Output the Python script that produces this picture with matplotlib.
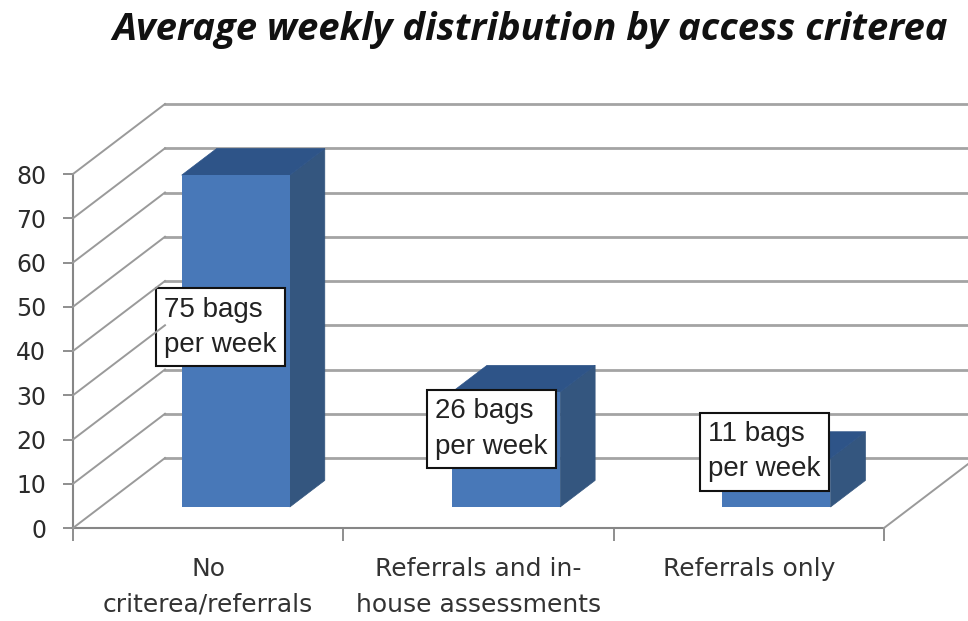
import matplotlib
matplotlib.use("Agg")
import matplotlib.pyplot as plt
from matplotlib.patches import Polygon
from matplotlib.transforms import IdentityTransform, ScaledTranslation

categories = ["No\ncriterea/referrals", "Referrals and in-\nhouse assessments", "Referrals only"]
values = [75, 26, 11]
labels = ["75 bags\nper week", "26 bags\nper week", "11 bags\nper week"]
yticks = [0, 10, 20, 30, 40, 50, 60, 70, 80]
title = "Average weekly distribution by access criterea"

W, H, DPI = 968, 621, 100
fig = plt.figure(figsize=(W / DPI, H / DPI), dpi=DPI, facecolor="white")
ax = fig.add_axes([73 / W, 1 - 528 / H, (884 - 73) / W, (528 - 174) / H])
ax.set_xlim(0, 3)
ax.set_ylim(0, 80)
ax.patch.set_alpha(0)

# oblique depth, in pixels for a depth fraction of 1
DX, DY = 92, 70
GRID = "#a4a4a4"
DIAG = "#9a9a9a"
AXC = "#868686"


def proj(x, y, d=0.0):
    px, py = ax.transData.transform((x, y))
    return (px + d * DX, py + d * DY)


def shift(d, px=0):
    return ax.transData + ScaledTranslation((d * DX + px) / DPI, d * DY / DPI, fig.dpi_scale_trans)


# walls
idt = IdentityTransform()
for v in yticks:
    a, b = proj(0, v), proj(0, v, 1)
    fig.add_artist(plt.Line2D([a[0], b[0]], [a[1], b[1]], color=DIAG, lw=1.4, transform=idt, zorder=1))
    ax.plot([0, 3], [v, v], transform=shift(1), color=GRID, lw=2.0, clip_on=False, zorder=1)
a, b = proj(3, 0), proj(3, 0, 1)
fig.add_artist(plt.Line2D([a[0], b[0]], [a[1], b[1]], color=DIAG, lw=1.4, transform=idt, zorder=1))

# bars
x = [0.5, 1.5, 2.5]
width = 0.4
d0, d1 = 0.3, 0.68
FRONT, SIDE, TOP = "#4878b8", "#34567f", "#2e5488"
bars = ax.bar(x, values, width=width, color=FRONT, zorder=3, clip_on=False, transform=shift(d0))
ax.set_xlim(0, 3)
ax.set_ylim(0, 80)
for xi, v in zip(x, values):
    l, r = xi - width / 2, xi + width / 2
    side = [proj(r, 0, d0), proj(r, 0, d1), proj(r, v, d1), proj(r, v, d0)]
    top = [proj(l, v, d0), proj(l, v, d1), proj(r, v, d1), proj(r, v, d0)]
    ax.add_patch(Polygon(side, closed=True, fc=SIDE, ec=SIDE, lw=0.5, transform=idt, zorder=2.5, clip_on=False))
    ax.add_patch(Polygon(top, closed=True, fc=TOP, ec=TOP, lw=0.5, transform=idt, zorder=2.5, clip_on=False))

# axes
for s in ("top", "right"):
    ax.spines[s].set_visible(False)
for s in ("left", "bottom"):
    ax.spines[s].set_color(AXC)
    ax.spines[s].set_linewidth(1.5)
    ax.spines[s].set_zorder(2)
ax.set_yticks(yticks)
ax.tick_params(axis="y", length=7.2, width=1.3, color=AXC, pad=12, labelsize=17, labelcolor="#2b2b2b")
ax.set_xticks([0, 1, 2, 3])
ax.set_xticklabels([])
ax.tick_params(axis="x", which="major", length=9, width=1.3, color=AXC)
ax.set_xticks(x, minor=True)
ax.set_xticklabels(categories, minor=True, fontsize=18, color="#333333", linespacing=1.62)
ax.tick_params(axis="x", which="minor", length=0, pad=21)

# data labels
label_y = [40.6, 17.6, 12.5]
label_dx = [-15.5, -14.5, -12]
for xi, ly, t, o in zip(x, label_y, labels, label_dx):
    ax.text(xi, ly, t, transform=shift(d0, o),
            ha="center", va="center", ma="left", fontsize=20, family="Liberation Sans", color="#222222",
            linespacing=1.48, zorder=5, clip_on=False,
            bbox=dict(boxstyle="square,pad=0.3", fc="white", ec="#111111", lw=1.5))

fig.text(530 / W, 1 - 30 / H, title, ha="center", va="center", fontsize=27.5,
         family="Open Sans", weight="bold", style="italic", color="#111111")

fig.savefig("out.png", dpi=DPI, facecolor="white")
